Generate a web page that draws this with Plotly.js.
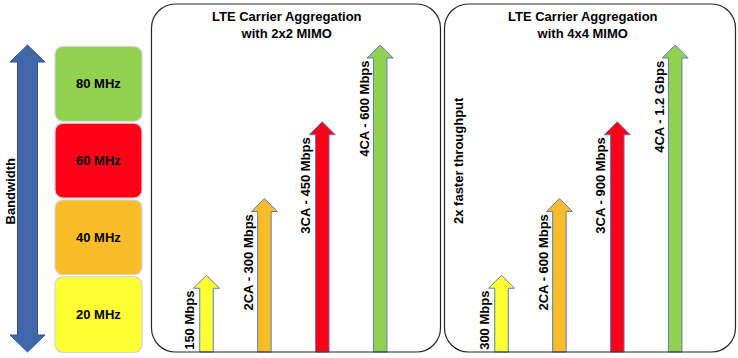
<!DOCTYPE html>
<html><head><meta charset="utf-8">
<script src="https://cdn.plot.ly/plotly-3.0.1.min.js"></script>
<style>html,body{margin:0;padding:0;background:#fff;} #chart{width:738px;height:358px;}</style>
</head><body><div id="chart"></div>
<script>
// ---------------- data ----------------
const bandwidthLabels = ["20 MHz", "40 MHz", "60 MHz", "80 MHz"];
const bandwidthMHz = [20, 40, 60, 80];
const bandColors = ["#FFFF33", "#FBBC2A", "#FF0019", "#92D050"];
const mimo2x2Labels = ["150 Mbps", "2CA - 300 Mbps", "3CA - 450 Mbps", "4CA - 600 Mbps"];
const mimo2x2Mbps = [150, 300, 450, 600];
const mimo4x4Labels = ["300 Mbps", "2CA - 600 Mbps", "3CA - 900 Mbps", "4CA - 1.2 Gbps"];
const mimo4x4Mbps = [300, 600, 900, 1200];
const panelTitles = ["LTE Carrier Aggregation<br>with 2x2 MIMO", "LTE Carrier Aggregation<br>with 4x4 MIMO"];
const bandwidthTitle = "Bandwidth";
const noteText = "2x faster throughput";

// ---------------- geometry / style ----------------
const W = 738, H = 358;
const FONT = "Liberation Sans, Arial, Helvetica, sans-serif";
const zeroPx = 352, maxPx = 45;
const bwMax = Math.max(...bandwidthMHz);
const pxPerMHz = (zeroPx - maxPx) / bwMax;
const scale2 = Math.max(...mimo2x2Mbps) / bwMax;
const scale4 = Math.max(...mimo4x4Mbps) / bwMax;
function yRange(s) { return [-(H - zeroPx) / pxPerMHz * s, zeroPx / pxPerMHz * s]; }
function xRange(zeroX, ppu) { return [-zeroX / ppu, (W - zeroX) / ppu]; }

const leftPPU = 71, leftZero = 27.5;
const panelPPU = 57.9, panel1Zero = 206.5, panel2Zero = 501.5;

function arrowPoly(xc, yTop, pxX, pxY, shaftHalf, headHalf, headH) {
  const sw = shaftHalf / pxX, hw = headHalf / pxX, hh = headH / pxY, yb = yTop - hh;
  return {x: [xc - sw, xc - sw, xc - hw, xc, xc + hw, xc + sw, xc + sw, xc - sw],
          y: [0, yb, yb, yTop, yb, yb, 0, 0]};
}
function roundRect(x0, x1, y0, y1, rx, ry, n) {
  const xs = [], ys = [];
  const c = [[x1 - rx, y1 - ry, 0], [x0 + rx, y1 - ry, 90], [x0 + rx, y0 + ry, 180], [x1 - rx, y0 + ry, 270]];
  for (const [cx, cy, a0] of c) {
    for (let k = 0; k <= n; k++) {
      const a = (a0 + 90 * k / n) * Math.PI / 180;
      xs.push(cx + rx * Math.cos(a)); ys.push(cy + ry * Math.sin(a));
    }
  }
  xs.push(xs[0]); ys.push(ys[0]);
  return {x: xs, y: ys};
}
function roundRectPath(x0, y0, x1, y1, r) {
  const k = 0.5523 * r;
  const P = (x, y) => (x / W).toFixed(5) + ',' + (1 - y / H).toFixed(5);
  return `M${P(x0 + r, y0)} L${P(x1 - r, y0)} C${P(x1 - r + k, y0)} ${P(x1, y0 + r - k)} ${P(x1, y0 + r)} ` +
         `L${P(x1, y1 - r)} C${P(x1, y1 - r + k)} ${P(x1 - r + k, y1)} ${P(x1 - r, y1)} ` +
         `L${P(x0 + r, y1)} C${P(x0 + r - k, y1)} ${P(x0, y1 - r + k)} ${P(x0, y1 - r)} ` +
         `L${P(x0, y0 + r)} C${P(x0, y0 + r - k)} ${P(x0 + r - k, y0)} ${P(x0 + r, y0)} Z`;
}

const traces = [];
const annotations = [];

// big double arrow (bandwidth axis)
{
  const sw = 10 / leftPPU, hw = 17.5 / leftPPU, hh = 17 / pxPerMHz, top = bwMax;
  traces.push({
    type: 'scatter', mode: 'lines', xaxis: 'x', yaxis: 'y', fill: 'toself',
    fillcolor: '#4167AB', line: {color: '#2F528F', width: 1},
    x: [-sw, -hw, 0, hw, sw, sw, hw, 0, -hw, -sw, -sw],
    y: [hh, hh, 0, hh, hh, top - hh, top - hh, top, top - hh, top - hh, hh],
    hoverinfo: 'skip', showlegend: false
  });
}
annotations.push({xref: 'paper', yref: 'paper', x: 9.5 / W, y: 1 - 192 / H, xanchor: 'center', yanchor: 'middle',
  text: '<b>' + bandwidthTitle + '</b>', textangle: -90, showarrow: false, font: {family: FONT, size: 13, color: '#000'}});

// bandwidth boxes
bandwidthMHz.forEach((hi, i) => {
  const lo = i === 0 ? 0 : bandwidthMHz[i - 1];
  const y1 = hi - 1.5 / pxPerMHz, y0 = lo + (i === 0 ? -0.5 : 0.5) / pxPerMHz;
  const half = 43.5 / leftPPU;
  const rr = roundRect(1 - half, 1 + half, y0, y1, 8 / leftPPU, 8 / pxPerMHz, 8);
  traces.push({type: 'scatter', mode: 'lines', xaxis: 'x', yaxis: 'y', fill: 'toself',
    fillcolor: bandColors[i], line: {color: '#D4D4D4', width: 1.2}, x: rr.x, y: rr.y,
    hoverinfo: 'skip', showlegend: false});
  annotations.push({xref: 'x', yref: 'y', x: 1, y: (y0 + y1) / 2, text: '<b>' + bandwidthLabels[i] + '</b>',
    showarrow: false, font: {family: FONT, size: 13, color: '#000'}});
});

// throughput arrows
function addPanel(values, labels, xa, ya, scale) {
  const pxY = pxPerMHz / scale;
  values.forEach((v, i) => {
    const a = arrowPoly(i, v, panelPPU, pxY, 6.75, 13, 13);
    traces.push({type: 'scatter', mode: 'lines', xaxis: xa, yaxis: ya, fill: 'toself',
      fillcolor: bandColors[i], line: {color: '#5B7DB8', width: 1}, x: a.x, y: a.y,
      hoverinfo: 'skip', showlegend: false});
    annotations.push({xref: xa, yref: ya, x: i - 6.9 / panelPPU, y: v - 14 / pxY,
      xanchor: 'right', yanchor: 'top', textangle: -90, showarrow: false,
      text: '<b>' + labels[i] + '</b>', font: {family: FONT, size: 13, color: '#000'}});
  });
}
addPanel(mimo2x2Mbps, mimo2x2Labels, 'x2', 'y2', scale2);
addPanel(mimo4x4Mbps, mimo4x4Labels, 'x3', 'y3', scale4);

// panel titles and note
[[287, panelTitles[0]], [583, panelTitles[1]]].forEach(([cx, t]) => {
  annotations.push({xref: 'paper', yref: 'paper', x: cx / W, y: 1 - 25 / H, xanchor: 'center', yanchor: 'middle',
    text: '<b>' + t.replace('<br>', '</b><br><b>') + '</b>', showarrow: false,
    font: {family: FONT, size: 13, color: '#000'}});
});
annotations.push({xref: 'paper', yref: 'paper', x: 458 / W, y: 1 - 161 / H, xanchor: 'center', yanchor: 'middle',
  text: '<b>' + noteText + '</b>', textangle: -90, showarrow: false, font: {family: FONT, size: 13, color: '#000'}});

const hidden = {visible: false, showgrid: false, zeroline: false, fixedrange: true};
const layout = {
  width: W, height: H, margin: {l: 0, r: 0, t: 0, b: 0, pad: 0},
  paper_bgcolor: '#ffffff', plot_bgcolor: 'rgba(0,0,0,0)', showlegend: false,
  xaxis: Object.assign({}, hidden, {domain: [0, 1], range: xRange(leftZero, leftPPU)}),
  xaxis2: Object.assign({}, hidden, {domain: [0, 1], range: xRange(panel1Zero, panelPPU), overlaying: 'x'}),
  xaxis3: Object.assign({}, hidden, {domain: [0, 1], range: xRange(panel2Zero, panelPPU), overlaying: 'x'}),
  yaxis: Object.assign({}, hidden, {domain: [0, 1], range: yRange(1)}),
  yaxis2: Object.assign({}, hidden, {domain: [0, 1], range: yRange(scale2), overlaying: 'y'}),
  yaxis3: Object.assign({}, hidden, {domain: [0, 1], range: yRange(scale4), overlaying: 'y'}),
  shapes: [
    {type: 'path', xref: 'paper', yref: 'paper', path: roundRectPath(151.5, 4, 440.5, 352, 24), line: {color: '#262626', width: 1.2}, layer: 'above'},
    {type: 'path', xref: 'paper', yref: 'paper', path: roundRectPath(444.5, 4, 735.5, 352, 24), line: {color: '#262626', width: 1.2}, layer: 'above'}
  ],
  annotations: annotations
};
Plotly.newPlot('chart', traces, layout, {staticPlot: true, displayModeBar: false});
</script></body></html>
